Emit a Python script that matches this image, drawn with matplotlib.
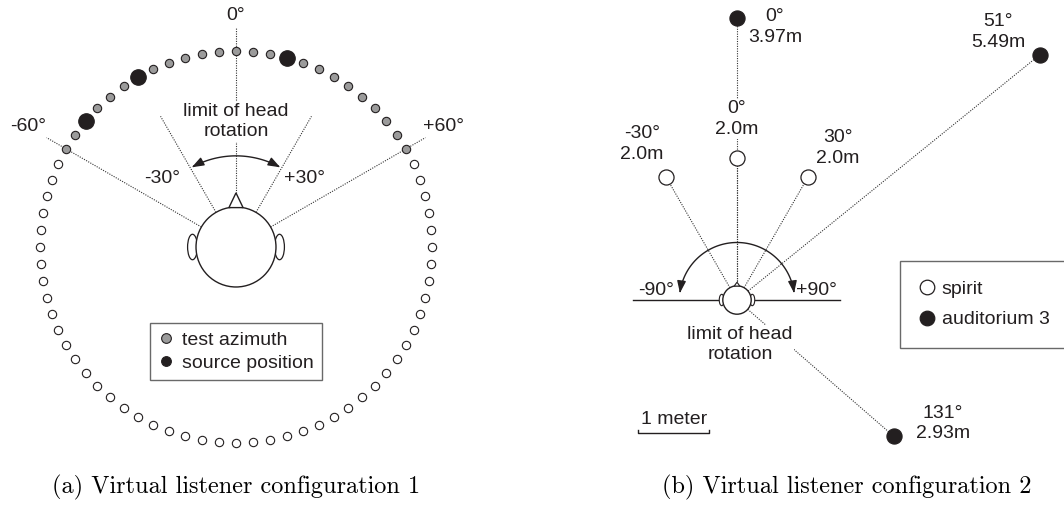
import numpy as np
import matplotlib
matplotlib.use("Agg")
import matplotlib.pyplot as plt
from matplotlib.patches import Circle, Ellipse, Polygon, FancyArrowPatch
from matplotlib.path import Path
from matplotlib.lines import Line2D

# ---------------- data: configuration 1 ----------------
ring_step = 5                                   # degrees between ring positions
ring_azimuths = np.arange(-175, 181, ring_step)  # 72 positions around listener
test_limit = 60                                 # test azimuths within +/-60
source_azimuths = [-50, -30, 15]
rotation_limit_1 = 30
guide_azimuths_1 = [-60, 60]
guide_labels_1 = ["-60°", "+60°"]
legend_labels_1 = ["test azimuth", "source position"]

# ---------------- data: configuration 2 ----------------
spirit_az = [-30, 0, 30]
spirit_dist = [2.0, 2.0, 2.0]
aud_az = [0, 51, 131]
aud_dist = [3.97, 5.49, 2.93]
rotation_limit_2 = 90
legend_labels_2 = ["spirit", "auditorium 3"]
captions = ["(a) Virtual listener configuration 1",
            "(b) Virtual listener configuration 2"]

# ---------------- style ----------------
FONT = "Liberation Sans"
FS = 14
INK = "#231f20"
GRAY = "#9b9b9b"
DOT = dict(ls=(0, (1, 1.2)), lw=0.8, color="#333333", zorder=1)
plt.rcParams["font.family"] = [FONT, "DejaVu Sans"]

W, H = 1064, 507
fig = plt.figure(figsize=(W / 100, H / 100), dpi=100)


def polar(az, r):
    a = np.radians(az)
    return r * np.sin(a), r * np.cos(a)


def fmt_dist(d):
    return f"{d:.1f}m" if abs(d * 10 - round(d * 10)) < 1e-9 else f"{d:.2f}m"


# =============== left panel (unit = ring radius) ===============
R_PX = 196.0
cx1, cy1 = 236, 247
ax1 = fig.add_axes([0, 0, 472 / W, 1])
ax1.set_xlim(-cx1 / R_PX, (472 - cx1) / R_PX)
ax1.set_ylim(-(H - cy1) / R_PX, cy1 / R_PX)
ax1.axis("off")

head_r = 0.204
# guide lines
x0, y0 = polar(0, 0.276)
x1, y1 = polar(0, 1.117)
ax1.plot([x0, x1], [y0, y1], **DOT)
for az in [-rotation_limit_1, rotation_limit_1]:
    xa, ya = polar(az, head_r)
    xb, yb = polar(az, 0.77)
    ax1.plot([xa, xb], [ya, yb], **DOT)
for az in guide_azimuths_1:
    xa, ya = polar(az, head_r)
    xb, yb = polar(az, 1.116)
    ax1.plot([xa, xb], [ya, yb], **DOT)

# ring
for az in ring_azimuths:
    if az in source_azimuths:
        continue
    fc = GRAY if abs(az) <= test_limit else "white"
    x, y = polar(az, 1.0)
    ax1.scatter([x], [y], s=36, facecolor=fc, edgecolor=INK, linewidths=0.8, zorder=3)
xs, ys = polar(np.array(source_azimuths), 1.0)
ax1.scatter(xs, ys, s=125, facecolor=INK, edgecolor=INK, linewidths=0.8, zorder=3)

# head
for side in (-1, 1):
    ax1.add_patch(Ellipse((side * 0.222, 0), 0.05, 0.13, facecolor="white",
                          edgecolor=INK, lw=0.9, zorder=3))
ax1.add_patch(Circle((0, 0), head_r, facecolor="white", edgecolor=INK, lw=1.0, zorder=4))
ax1.add_patch(Polygon([[-0.036, 0.201], [0, 0.276], [0.036, 0.201]], closed=True,
                      facecolor="white", edgecolor=INK, lw=1.0, zorder=4))

# rotation arc
arc_az = np.linspace(-29, 29, 60)
ax_, ay_ = polar(arc_az, 0.465)
ax1.add_patch(FancyArrowPatch(path=Path(np.column_stack([ax_, ay_])),
                              arrowstyle="<|-|>,head_length=0.6,head_width=0.22",
                              mutation_scale=12, lw=1.0, color=INK, zorder=5))

# labels
tx, ty = polar(0, 1.18)
ax1.text(tx, ty, "0°", ha="center", va="center", fontsize=FS, color=INK)
for az, lab in zip(guide_azimuths_1, guide_labels_1):
    tx, ty = polar(az, 1.225)
    ax1.text(tx, ty, lab, ha="center", va="center", fontsize=FS, color=INK)
ax1.text(-0.378, 0.352, f"-{rotation_limit_1}°", ha="center", va="center",
         fontsize=FS, color=INK)
ax1.text(0.352, 0.352, f"+{rotation_limit_1}°", ha="center", va="center",
         fontsize=FS, color=INK)
ax1.text(0, 0.64, "limit of head\nrotation", ha="center", va="center", fontsize=FS,
         color=INK, linespacing=1.25,
         bbox=dict(facecolor="white", edgecolor="none", pad=1), zorder=6)

h1 = [Line2D([], [], ls="none", marker="o", ms=7, mfc=GRAY, mec=INK, mew=0.8),
      Line2D([], [], ls="none", marker="o", ms=7, mfc=INK, mec=INK, mew=0.8)]
leg1 = ax1.legend(h1, legend_labels_1, loc="center", bbox_to_anchor=(0, -0.533),
                  bbox_transform=ax1.transData, fontsize=FS, frameon=True,
                  fancybox=False, edgecolor="#444444", handlelength=0.8,
                  handletextpad=0.45, labelspacing=0.3, borderpad=0.4,
                  borderaxespad=0)
leg1.get_frame().set_linewidth(1.0)
for t in leg1.get_texts():
    t.set_color(INK)

# =============== right panel (unit = meter) ===============
M_PX = 71.0
cx2, cy2 = 737, 300
left2 = 472
ax2 = fig.add_axes([left2 / W, 0, (W - left2) / W, 1])
ax2.set_xlim(-(cx2 - left2) / M_PX, (W - cx2) / M_PX)
ax2.set_ylim(-(H - cy2) / M_PX, cy2 / M_PX)
ax2.axis("off")

head2 = 0.2
# horizontal line through ears
ax2.plot([-1.46, 1.45], [0, 0], color=INK, lw=1.0, zorder=2)

# dotted lines to sources
for az, d in zip(spirit_az + aud_az, spirit_dist + aud_dist):
    xa, ya = polar(az, head2)
    xb, yb = polar(az, d)
    ax2.plot([xa, xb], [ya, yb], **DOT)

# rotation arc
arc2 = np.linspace(-83, 83, 120)
bx, by = polar(arc2, 0.81)
ax2.add_patch(FancyArrowPatch(path=Path(np.column_stack([bx, by])),
                              arrowstyle="<|-|>,head_length=0.6,head_width=0.22",
                              mutation_scale=12, lw=1.0, color=INK, zorder=5))

# head
for side in (-1, 1):
    ax2.add_patch(Ellipse((side * 0.215, 0), 0.07, 0.16, facecolor="white",
                          edgecolor=INK, lw=0.8, zorder=3))
ax2.add_patch(Circle((0, 0), head2, facecolor="white", edgecolor=INK, lw=1.0, zorder=4))
ax2.add_patch(Polygon([[-0.04, 0.196], [0, 0.25], [0.04, 0.196]], closed=True,
                      facecolor="white", edgecolor=INK, lw=0.8, zorder=4))

# sources
sx, sy = polar(np.array(spirit_az), np.array(spirit_dist))
ax2.scatter(sx, sy, s=118, facecolor="white", edgecolor=INK, linewidths=0.9, zorder=6)
axx, axy = polar(np.array(aud_az), np.array(aud_dist))
ax2.scatter(axx, axy, s=118, facecolor=INK, edgecolor=INK, linewidths=0.9, zorder=6)

# source labels (offsets in pixels -> points)
offs_spirit = [(-24, 33), (0, 39), (30, 29)]
offs_aud = [(38, -9), (-42, 23), (49, 13)]
for az, d, x, y, o in zip(spirit_az + aud_az, spirit_dist + aud_dist,
                          list(sx) + list(axx), list(sy) + list(axy),
                          offs_spirit + offs_aud):
    ax2.annotate(f"{az}°\n{fmt_dist(d)}", (x, y),
                 xytext=(o[0] * 0.72, o[1] * 0.72), textcoords="offset points",
                 ha="center", va="center", fontsize=FS, color=INK, linespacing=1.3,
                 bbox=dict(facecolor="white", edgecolor="none", pad=0.5), zorder=7)

ax2.text(-1.14, 0.13, f"-{rotation_limit_2}°", ha="center", va="center",
         fontsize=FS, color=INK)
ax2.text(1.12, 0.13, f"+{rotation_limit_2}°", ha="center", va="center",
         fontsize=FS, color=INK)
ax2.text(0.04, -0.63, "limit of head\nrotation", ha="center", va="center",
         fontsize=FS, color=INK, linespacing=1.25,
         bbox=dict(facecolor="white", edgecolor="none", pad=1), zorder=7)

# scale bar: 1 meter
bar_x0, bar_y = -1.39, -1.87
bar_len = 1.0
ax2.plot([bar_x0, bar_x0, bar_x0 + bar_len, bar_x0 + bar_len],
         [bar_y + 0.04, bar_y, bar_y, bar_y + 0.04], color=INK, lw=1.0)
ax2.text(bar_x0 + bar_len / 2, bar_y + 0.18, "1 meter", ha="center", va="center",
         fontsize=FS, color=INK)

h2 = [Line2D([], [], ls="none", marker="o", ms=10.5, mfc="white", mec=INK, mew=0.9),
      Line2D([], [], ls="none", marker="o", ms=10.5, mfc=INK, mec=INK, mew=0.9)]
leg2 = ax2.legend(h2, legend_labels_2, loc="upper left",
                  bbox_to_anchor=((900 - cx2) / M_PX, (cy2 - 261) / M_PX),
                  bbox_transform=ax2.transData, fontsize=FS, frameon=True,
                  fancybox=False, edgecolor="#444444", handlelength=0.8,
                  handletextpad=0.35, labelspacing=0.65, borderpad=1.0,
                  borderaxespad=0)
leg2.get_frame().set_linewidth(1.0)
for t in leg2.get_texts():
    t.set_color(INK)

# captions
fig.text(236 / W, 1 - 487 / H, captions[0], ha="center", va="center",
         family="cmr10", fontsize=17.5, color="black")
fig.text(847 / W, 1 - 487 / H, captions[1], ha="center", va="center",
         family="cmr10", fontsize=17.5, color="black")

fig.savefig("out.png", dpi=100, facecolor="white")
